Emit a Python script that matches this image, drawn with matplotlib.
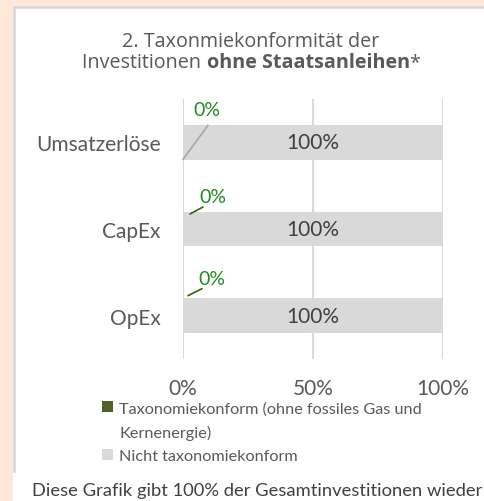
import matplotlib
matplotlib.use("Agg")
import matplotlib.pyplot as plt
import matplotlib.transforms as mtransforms
from matplotlib.patches import Rectangle
from matplotlib.lines import Line2D

categories = ["Umsatzerlöse", "CapEx", "OpEx"]
aligned = [0, 0, 0]
not_aligned = [100, 100, 100]
aligned_labels = ["0%", "0%", "0%"]
not_aligned_labels = ["100%", "100%", "100%"]
xticks = [0, 50, 100]
xtick_labels = ["0%", "50%", "100%"]
legend_lines = ["Taxonomiekonform (ohne fossiles Gas und", "Kernenergie)", "Nicht taxonomiekonform"]
title_line1 = "2. Taxonmiekonformität der"
title_line2 = ["Investitionen ", "ohne Staatsanleihen", "*"]
footer = "Diese Grafik gibt 100% der Gesamtinvestitionen wieder"

GREEN = "#4f6228"
GREY = "#d9d9d9"
LABEL_GREEN = "#1e8c1e"
TXT = "#595959"
FONT = "Lato"
TFONT = "Open Sans"

W, H = 484, 502
fig = plt.figure(figsize=(W / 100, H / 100), dpi=100)
fig.patch.set_facecolor("#fde8da")

# white panel + border (left and top)
fig.add_artist(Rectangle((13 / W, 0), 1, 1 - 8 / H, transform=fig.transFigure,
                         facecolor="white", edgecolor="none", zorder=-2))
fig.add_artist(Line2D([14 / W, 14 / W], [1 - 472 / H, 1 - 7.5 / H], transform=fig.transFigure,
                      color="#d6d6d6", linewidth=1.8, zorder=-1))
fig.add_artist(Line2D([14 / W, 1], [1 - 7.5 / H, 1 - 7.5 / H], transform=fig.transFigure,
                      color="#d6d6d6", linewidth=1.8, zorder=-1))

ax = fig.add_axes([183 / W, 1 - 360 / H, 260 / W, 260 / H])
ax.set_zorder(2)
ax.set_facecolor("none")
y = list(range(len(categories)))
bh = 0.4
ax.barh(y, aligned, height=bh, color=GREEN, zorder=2)
ax.barh(y, not_aligned, left=aligned, height=bh, color=GREY, zorder=2)
ax.set_xlim(0, 100)
ax.set_ylim(len(categories) - 0.5, -0.5)
ax.set_yticks(y)
ax.set_yticklabels(categories, fontsize=15, color=TXT, family=FONT)
ax.set_xticks(xticks)
ax.set_xticklabels(xtick_labels, fontsize=15, color=TXT, family=FONT)
ax.tick_params(axis="both", length=0)
ax.tick_params(axis="x", pad=14)
ax.tick_params(axis="y", pad=16)
for s in ax.spines.values():
    s.set_visible(False)
ax.grid(axis="x", color="#d9d9d9", linewidth=1.5, zorder=0)

for i, (a, na) in enumerate(zip(aligned, not_aligned)):
    ax.text(a + na / 2, i, not_aligned_labels[i], ha="center", va="center",
            fontsize=15, color="#404040", family=FONT, zorder=3)

# data labels for the 0% values with leader lines
text_offsets = [(24, 33), (30, 32), (29, 37)]
line_specs = [((0, -17), (25, 34), "#a6a6a6"), ((7, 15), (13, 7), "#2e6b00"), ((5, 20), (14, 7), "#2e6b00")]
for i, a in enumerate(aligned):
    dx, dy = text_offsets[i]
    ax.annotate(aligned_labels[i], xy=(a, i), xytext=(dx, dy), textcoords="offset pixels",
                ha="center", va="center", fontsize=14, color=LABEL_GREEN, family=FONT, zorder=4)
    (sx, sy), (ex, ey), col = line_specs[i]
    tr = mtransforms.offset_copy(ax.transData, fig=fig, x=sx, y=sy, units="dots")
    ax.annotate("", xy=(a, i), xycoords=tr, xytext=(ex, ey), textcoords="offset pixels",
                arrowprops=dict(arrowstyle="-", color=col, lw=1.2, shrinkA=0, shrinkB=0), zorder=4)

# legend (the first entry wraps onto a second line without its own marker)
h1 = Rectangle((0, 0), 1, 1, facecolor=GREEN)
h_blank = Rectangle((0, 0), 1, 1, facecolor="none", edgecolor="none")
h2 = Rectangle((0, 0), 1, 1, facecolor=GREY)
leg = fig.legend([h1, h_blank, h2], legend_lines, loc="upper left", bbox_to_anchor=(102 / W, 1 - 402 / H),
                 frameon=False, prop={"family": FONT, "size": 11.7}, handlelength=0.65, handleheight=0.65,
                 handletextpad=0.4, labelspacing=0.58, borderaxespad=0, borderpad=0)
for t in leg.get_texts():
    t.set_color(TXT)

# title
TS = 14.2
fig.text(251 / W, 1 - 42 / H, title_line1, ha="center", va="center", fontsize=TS,
         color=TXT, family=TFONT)
renderer = fig.canvas.get_renderer()
weights = ["normal", "bold", "normal"]
parts = []
for s, wgt in zip(title_line2, weights):
    t = fig.text(0, 1 - 63 / H, s, ha="left", va="center", fontsize=TS, color=TXT,
                 family=TFONT, weight=wgt)
    parts.append(t)
widths = [p.get_window_extent(renderer).width for p in parts]
widths[1] -= 1
total = sum(widths)
x0 = 251 - total / 2
for p, w in zip(parts, widths):
    p.set_x(x0 / W)
    x0 += w

fig.text(32 / W, 1 - 491 / H, footer, ha="left", va="center", fontsize=13.25, color="#404040", family=FONT)

fig.savefig("out.png", dpi=100, facecolor=fig.get_facecolor())
